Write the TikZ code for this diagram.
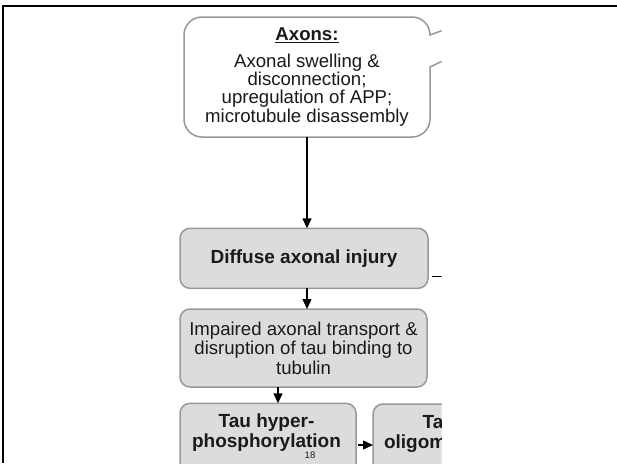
\documentclass[tikz,border=0pt]{standalone}
\usepackage{fontspec}
\setmainfont{Liberation Sans}
\usetikzlibrary{arrows.meta}
\definecolor{boxfill}{HTML}{DCDCDC}
\definecolor{boxedge}{HTML}{989898}
\definecolor{ink}{HTML}{1A1A1A}
\begin{document}
\begin{tikzpicture}[x=1pt,y=-1pt,
  every node/.style={text=ink, inner sep=0pt, outer sep=0pt},
  stepbox/.style={draw=boxedge, fill=boxfill, line width=1.5pt, rounded corners=10pt},
  bubble/.style={draw=boxedge, fill=white, line width=1.5pt},
  arr/.style={draw=black, line width=1.4pt, -{Triangle[length=10pt,width=9pt]}},
  plain/.style={draw=black, line width=1.4pt},
  frame/.style={draw=black, line width=2.5pt},
  boldlabel/.style={font=\bfseries\fontsize{19}{20}\selectfont}]
\useasboundingbox (0,0) rectangle (617,463);

% slide frame
\draw[frame] (3,463) -- (3,6) -- (617,6);

\begin{scope}
\clip (0,0) rectangle (441.7,463);

% callout outline
\draw[bubble] (202,17) -- (412,17) .. controls (422,17) and (430,25) .. (430,35)
  -- (480,16.5) -- (480,43) -- (430,67) -- (430,119)
  .. controls (430,129) and (422,137) .. (412,137)
  -- (202,137) .. controls (192,137) and (184,129) .. (184,119)
  -- (184,35) .. controls (184,25) and (192,17) .. (202,17) -- cycle;
\node[minimum width=246pt, minimum height=120pt, align=center,
      font=\fontsize{18.6}{18.3}\selectfont] (axons) at (307,77)
  {\textbf{\underline{Axons:}}\\[8.4pt]
   Axonal swelling \&\\ disconnection;\\ upregulation of APP;\\ microtubule disassembly};

% process boxes
\node[stepbox, minimum width=248pt, minimum height=60pt,
      font=\bfseries\fontsize{19}{22}\selectfont] (dai) at (304,258.3) {Diffuse axonal injury};
\node[stepbox, minimum width=247pt, minimum height=78pt, align=center,
      font=\fontsize{18.6}{19.5}\selectfont] (imp) at (303.5,348)
  {Impaired axonal transport \&\\ disruption of tau binding to\\ tubulin};
\node[stepbox, minimum width=176pt, minimum height=80pt] (tauh) at (268,443.3) {};
\node[boldlabel, align=center] (tauhtxt) at (266.5,433) {Tau hyper-\\phosphorylation};
\node[stepbox, minimum width=176pt, minimum height=80pt] (tauo) at (461,444) {};
\node[boldlabel, anchor=base west] (tauoA) at (422.7,428) {Tau};
\node[boldlabel, anchor=base west] (tauoB) at (384,448) {oligomers};
\node[font=\fontsize{9.5}{10}\selectfont] (pagenum) at (310,455.5) {18};

% connectors
\draw[arr] (axons.south) -- (axons.south |- dai.north);
\draw[arr] (axons.south |- dai.south) -- (axons.south |- imp.north);
\draw[arr] (imp.south -| 278,0) -- (tauh.north -| 278,0);
\draw[arr, shorten <=2pt] ([yshift=-1.7pt]tauh.east) -- ([yshift=-1.7pt]tauh.east -| tauo.west);
\draw[plain] ([shift={(4pt,12pt)}]dai.south east) -- ++(30,0);
\end{scope}
\end{tikzpicture}
\end{document}
